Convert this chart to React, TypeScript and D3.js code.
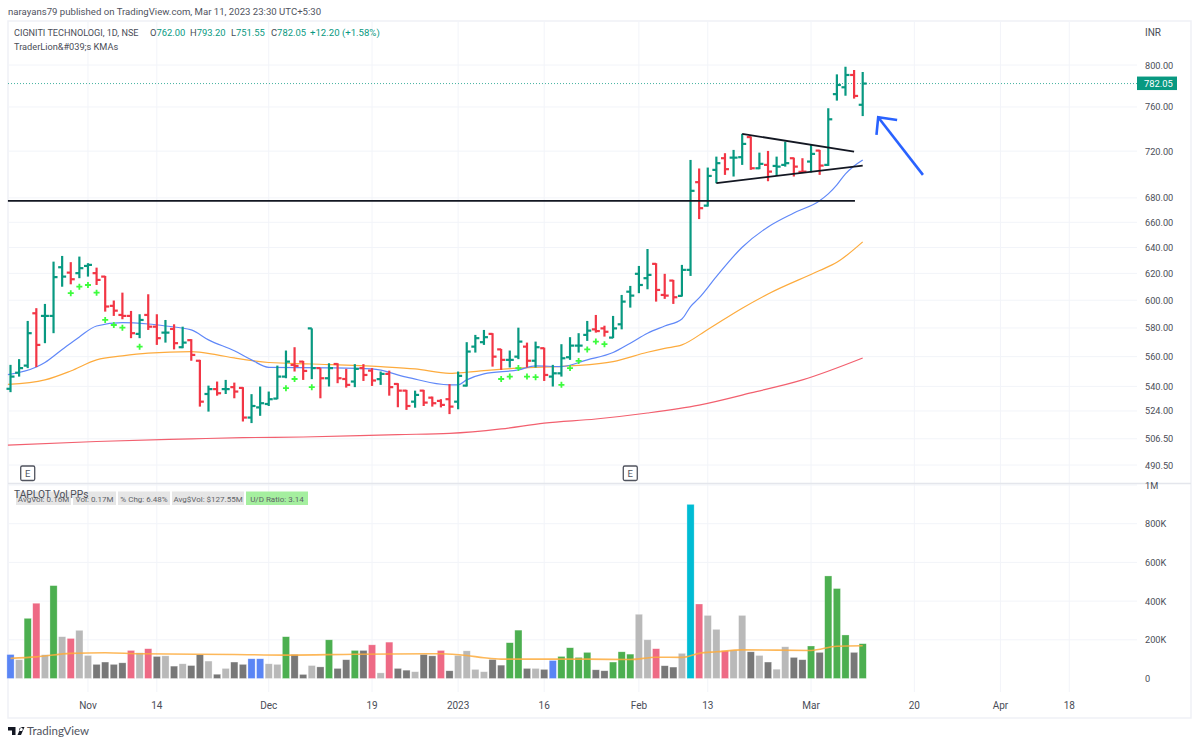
import React from "react";
import * as d3 from "d3";

const W = 1200;
const H = 746;

// daily bars
const opens = [538.4,549.1,553.9,590.5,588.6,588.6,624.7,620.6,620.2,625.7,620.2,617.6,595.9,589.3,588.6,575.8,589.3,580.9,576.7,579.3,566.5,571.4,557.2,535,538.2,538.2,539.5,539,519.8,526.3,528.5,532,546.5,554.4,556.6,579.7,552.2,545.4,555,544.9,543.2,552.2,550.5,544.8,548.3,541.6,537.2,530,537.2,532.6,530.5,531.6,530,540.5,566.9,570,575.8,565,557.8,560,566.9,557.2,565.8,546.5,548.7,559.6,567.6,575.1,579,579.7,573.2,582.6,606.3,619.7,616.4,627.3,603.9,614.6,603.2,622.7,693.2,673.6,703.7,713.8,714.3,714.7,732.5,705.1,708,707.1,708,713.8,702,710.9,720.5,708,772,778.5,790.3,762];
const highs = [554.4,558.3,585,594.2,597.3,629,633.4,628.6,632.9,627.8,624.4,618.1,599.8,605.6,592.2,589.8,604.4,589.8,585.7,582.6,580.9,572.1,557.8,540.5,543.2,544.3,542.5,539.5,534.9,539.9,536.6,553.9,564.2,566.5,557.1,579.7,552.2,555.5,555.5,551.7,554.9,554.9,552.2,549.9,550.5,542.1,537.7,537.2,537.7,533.3,531.6,541.5,549.9,570,575.1,578.6,576.3,565.3,564.2,580.2,569.7,570.4,566.2,554.4,568.6,573.5,576.3,585,589.3,581.6,588.6,603.9,610.6,625.7,638.8,627.8,619.7,615.1,626.5,712.3,704.9,705.7,715.2,718.2,721.1,735.4,733,718.7,720.2,715.2,728.4,714.3,713.8,725.5,721.1,758.8,790.9,798.3,795.1,793.2];
const lows = [536.2,546.5,552.2,552.9,569.3,576.3,610,611.8,616.4,617.6,611.3,591.7,588.6,586.2,572.8,572.8,578.6,568.1,569.7,565,565.8,557.2,526.8,523.6,533.9,535,532.2,517.3,516.3,520.9,527.2,531.6,545.4,549.9,544.3,544.8,532.2,539.9,542.1,539.2,539.5,543.6,540.3,541,533.9,526.4,524.7,526.1,527.2,526.8,526.3,522,525.1,539.9,562.8,568.1,553.2,551,552.6,558.3,552.6,552.6,543.6,539.9,546.5,557.8,562.8,570.9,576.7,573.9,572.8,579,594.6,605.2,608.1,599,601,597.3,602.7,618.1,662.6,672.8,692.3,699.4,698,708,703.7,704.3,694,698.5,706.5,698,700.9,701.4,699.4,707.1,765.9,770.5,767.8,751.55];
const closes = [546.5,552.2,576.3,568.1,588.6,617.2,617.6,615.6,624,626.5,615.1,595.4,592.4,588.6,576.3,585.7,580.9,572.8,576.7,569.3,569.7,561.2,530,538.2,535.5,538.2,536.6,519.8,527.2,529,531.6,546.5,556.6,553.7,550.3,552.2,545.4,552.2,545.4,541,551.7,547.6,543.9,548.3,539.5,537.2,527.2,534.4,529.4,529,527.9,526.8,547,563.5,572.8,573.5,560,557.8,557.8,570.4,557.2,566.5,547.6,548.7,558.9,567.6,567.6,578.1,577.8,577.3,579.7,599,603.4,611.3,618.9,607.6,603.4,602.2,622.7,685.9,671.5,698.5,709.5,704.3,714.3,726.4,705.1,708.9,702.2,706.5,709.5,706.5,702.2,717.6,707.4,748.6,780.7,790.3,770.3,782.05];

// volume in thousands and the kind of each column: b blue, l light, d dark, g green, p pink, c cyan
const volumes = [124,97,311,389,123,480,216,207,249,119,73,85,73,81,145,133,154,114,117,64,76,67,123,90,22,52,85,73,102,102,76,73,216,124,21,67,60,200,52,97,145,145,174,29,188,52,43,35,124,117,145,40,119,143,47,35,98,69,185,250,52,52,47,93,114,159,109,135,45,40,85,138,126,332,200,154,66,59,130,900,385,326,254,143,147,326,138,119,85,48,164,109,97,168,135,530,465,225,135,180];
const volumeKinds = "blgplglpll ddddplpdld lddldlddbb llgddldgdd gdplpddldd pdllllddgg dldbggggdd gggllpddlc pllplldldl lddgdgggdg".replace(/ /g, "").split("");

// moving averages: [bar index, value]
const ma10: [number, number][] = [[-0.3,547.8],[3,552.9],[4,556],[6,564.9],[8,573.7],[10,581.4],[13,583.8],[16,582.8],[18,581.4],[21,578.6],[23,571.6],[26,564],[28,557.8],[30,552.7],[37,552.4],[42,551.7],[46,546.2],[51,541],[52,541],[53,544.3],[55,548.3],[59,551],[61,553.7],[64,553.2],[67,557.8],[70,562.8],[72,569.3],[74,576.3],[76,581.4],[78,586.4],[79,595.4],[80,601.7],[82,617.6],[85,640.2],[88,656.3],[91,667.6],[94,677.7],[95,683.3],[96,690.9],[97,700.3],[98,707.1],[99,712.3]];
const ma21: [number, number][] = [[-0.3,541.3],[4,544.3],[7,550.3],[10,557.8],[13,560.5],[16,562.4],[21,563.5],[24,561.2],[26,559.1],[30,556],[35,555],[43,553.2],[47,551.7],[51,548.7],[53,549.4],[55,550.5],[59,552.2],[65,553.7],[70,556.6],[74,563],[76,565.7],[78,568.1],[81,578.9],[85,594.2],[88,604.6],[94,622.2],[96,628.5],[99,644.4]];
const ma200: [number, number][] = [[-0.3,502.6],[10,504.8],[21,506.4],[27,507.2],[34,507.6],[45,509.1],[51,509.8],[57,512.6],[62,516.3],[68,518.9],[74,522.7],[80,527.8],[86,535.7],[92,544.3],[99,559.1]];
const volMa: [number, number][] = [[0,104],[3,112],[7,130],[11,133],[15,128],[26,124],[32,121],[40,125],[50,128],[53,119],[55,107],[57,100],[67,100],[72,98],[75,110],[78,109],[80,130],[82,138],[85,148],[93,145],[96,167],[99,169]];

// green crosses under the bars
const crossBars = [7,8,9,10,11,12,13,15,32,33,35,57,58,59,60,61,64,65,66,67,68,69];
const crossPrices = [605.2,610,611.3,605.6,585.7,582.1,580.2,566.9,538.8,544.9,539.5,544.9,546.5,552.2,546.5,546.1,541,552.2,557.1,565,570.4,568.6];

const priceTicks = [800,760,720,680,660,640,620,600,580,560,540,524,506.5,490.5];
const volumeTicks = [0,200,400,600,800,1000];
const timeTicks: [number, string][] = [[9,"Nov"],[17,"14"],[30,"Dec"],[42,"19"],[52,"2023"],[62,"16"],[73,"Feb"],[81,"13"],[93,"Mar"],[105,"20"],[115,"Apr"],[123,"18"]];
const earningsBars = [2, 72];

// hand drawn lines on the chart, [bar index, price]
const supportLine: [number, number][] = [[-0.3,677.5],[98.1,677.5]];
const upperTrend: [number, number][] = [[85,735.4],[98,719.5]];
const lowerTrend: [number, number][] = [[82,692.4],[99,707.4]];
const arrowShaft: [number, number][] = [[106,699.4],[100.8,750.5]];
const arrowHead: [number, number][] = [[103,748],[100.8,750.5],[100.6,734.5]];

const statBoxes: [string, number, number][] = [["AvgVol: 0.16M",16,55],["Vol: 0.17M",73,43],["% Chg: 6.48%",118,52],["Avg$Vol: $127.55M",172,72],["U/D Ratio: 3.14",246,62]];

// legend values: label, value, x of the label
const legendValues: [string, string, number][] = [["O","762.00",150],["H","793.20",190],["L","751.55",231],["C","782.05",271]];

const FONT = "Roboto, sans-serif";
const UP = "#089981";
const DOWN = "#f23645";
const GRID = "#f2f4f9";
const TEXT = "#4a4d57";

const kindColor: Record<string, string> = {
  b: "#5a85f5",
  l: "#b9b9b9",
  d: "#787878",
  g: "#4caf50",
  p: "#ee6a85",
  c: "#00bcd4",
};

const x = d3.scaleLinear().domain([0, 99]).range([10.5, 862.7]);
const y = d3.scaleLog().domain([490.5, 800]).range([465, 65]);
const yVol = d3.scaleLinear().domain([0, 1000]).range([678.5, 485]);

const priceLine = d3
  .line<[number, number]>()
  .x((d) => x(d[0]))
  .y((d) => y(d[1]));
const smooth = d3
  .line<[number, number]>()
  .x((d) => x(d[0]))
  .y((d) => y(d[1]))
  .curve(d3.curveMonotoneX);
const volLine = d3
  .line<[number, number]>()
  .x((d) => x(d[0]))
  .y((d) => yVol(d[1]))
  .curve(d3.curveMonotoneX);

const App: React.FC = () => {
  const last = closes[closes.length - 1];
  return (
    <svg
      width={W}
      height={H}
      style={{ position: "absolute", left: 0, top: 0, background: "#fff" }}
      fontFamily={FONT}
    >
      <text x={8} y={15} fontSize={9.6} fill="#50535e">
        narayans79 published on TradingView.com, Mar 11, 2023 23:30 UTC+5:30
      </text>

      {/* frame and grid */}
      <rect x={8} y={21} width={1183} height={697} fill="none" stroke="#eff1f6" strokeWidth={1.5} />
      {timeTicks.map(([i, label]) => (
        <line key={label} x1={x(i)} x2={x(i)} y1={21} y2={692} stroke={GRID} />
      ))}
      {priceTicks.map((t) => (
        <line key={t} x1={8} x2={1137} y1={y(t)} y2={y(t)} stroke={GRID} />
      ))}
      {volumeTicks.slice(1).map((t) => (
        <line key={t} x1={8} x2={1137} y1={yVol(t)} y2={yVol(t)} stroke={GRID} />
      ))}
      <line x1={8} x2={1191} y1={483.5} y2={483.5} stroke="#e4e6ec" strokeWidth={1.5} />

      {/* moving averages */}
      <path d={smooth(ma200) ?? ""} fill="none" stroke="#f2606f" strokeWidth={1.2} />
      <path d={smooth(ma21) ?? ""} fill="none" stroke="#fdab3d" strokeWidth={1.2} />
      <path d={smooth(ma10) ?? ""} fill="none" stroke="#6088f8" strokeWidth={1.2} />

      {/* last price line */}
      <line x1={8} x2={1137} y1={y(last)} y2={y(last)} stroke={UP} strokeOpacity={0.75} strokeDasharray="1 2" />

      {/* OHLC bars, coloured against the previous close */}
      {closes.map((c, i) => {
        const color = i === 0 || c >= closes[i - 1] ? UP : DOWN;
        const cx = x(i);
        return (
          <g key={i} stroke={color} strokeWidth={2.2}>
            <line x1={cx} x2={cx} y1={y(highs[i])} y2={y(lows[i])} />
            <line x1={cx - 4} x2={cx} y1={y(opens[i])} y2={y(opens[i])} />
            <line x1={cx} x2={cx + 4} y1={y(c)} y2={y(c)} />
          </g>
        );
      })}

      {crossBars.map((b, i) => (
        <path
          key={b}
          d={`M${x(b) - 3},${y(crossPrices[i])}h6M${x(b)},${y(crossPrices[i]) - 3}v6`}
          stroke="#3dfc3d"
          strokeWidth={1.8}
        />
      ))}

      {/* drawings */}
      <path d={priceLine(supportLine) ?? ""} fill="none" stroke="#131722" strokeWidth={1.8} />
      <path d={priceLine(upperTrend) ?? ""} fill="none" stroke="#131722" strokeWidth={1.8} />
      <path d={priceLine(lowerTrend) ?? ""} fill="none" stroke="#131722" strokeWidth={1.8} />
      <path d={priceLine(arrowShaft) ?? ""} fill="none" stroke="#2962ff" strokeWidth={2.6} />
      <path d={priceLine(arrowHead) ?? ""} fill="none" stroke="#2962ff" strokeWidth={2.6} />

      {/* earnings badges */}
      {earningsBars.map((b) => (
        <g key={b}>
          <rect x={x(b) - 7} y={466} width={14} height={14.5} rx={1.5} fill="#fff" stroke="#50535e" strokeWidth={1.3} />
          <text x={x(b)} y={477} textAnchor="middle" fontSize={9.5} fill="#50535e">
            E
          </text>
        </g>
      ))}

      {/* volume pane */}
      {volumes.map((v, i) => (
        <rect
          key={i}
          x={x(i) - 3.6}
          y={yVol(v)}
          width={7.2}
          height={yVol(0) - yVol(v)}
          fill={kindColor[volumeKinds[i]]}
          stroke="#fff"
          strokeOpacity={0.5}
          strokeWidth={0.6}
        />
      ))}
      <path d={volLine(volMa) ?? ""} fill="none" stroke="#fdab3d" strokeWidth={1.6} opacity={0.85} />

      {statBoxes.map(([label, bx, bw], i) => (
        <g key={label}>
          <rect x={bx} y={491.5} width={bw} height={13.5} fill={i === 4 ? "#a5ef9f" : "#e6e6e6"} />
          <text x={bx + bw / 2} y={501.5} textAnchor="middle" fontSize={8} fill="#5f6368">
            {label}
          </text>
        </g>
      ))}
      <text x={14} y={498} fontSize={10.2} fill="#4a4d57">
        TAPLOT Vol PPs
      </text>

      {/* legend */}
      <text x={14} y={36} fontSize={9.1} fill={TEXT}>
        CIGNITI TECHNOLOGI, 1D, NSE
      </text>
      {legendValues.map(([label, value, lx]) => (
        <text key={label} x={lx} y={36} fontSize={9.4} fill={TEXT}>
          {label}
          <tspan fill={UP}>{value}</tspan>
        </text>
      ))}
      <text x={310} y={36} fontSize={9.6} fill={UP}>
        +12.20 (+1.58%)
      </text>
      <text x={14} y={50} fontSize={9.2} fill={TEXT}>
        TraderLion&amp;#039;s KMAs
      </text>

      {/* price axis */}
      <text x={1145} y={36} fontSize={10} fill={TEXT}>
        INR
      </text>
      {priceTicks.map((t) => (
        <text key={t} x={1145} y={y(t) + 3.5} fontSize={9.2} fill={TEXT}>
          {t.toFixed(2)}
        </text>
      ))}
      <rect x={1137} y={y(last) - 7} width={40} height={13.5} fill={UP} />
      <text x={1144} y={y(last) + 3.5} fontSize={9.4} fill="#fff">
        {last.toFixed(2)}
      </text>

      {/* volume axis */}
      {volumeTicks.map((t) => (
        <text key={t} x={1145} y={yVol(t) + 3.5} fontSize={9.2} fill={TEXT}>
          {t === 1000 ? "1M" : t === 0 ? "0" : `${t}K`}
        </text>
      ))}

      {/* time axis */}
      {timeTicks.map(([i, label]) => (
        <text key={label} x={x(i)} y={709} textAnchor="middle" fontSize={10} fill={TEXT}>
          {label}
        </text>
      ))}

      {/* footer logo */}
      <path d="M8,727h7.5v8h-3.5v-4.5h-4zM21,727.5a1.8,1.8 0 1 0 .01,0zM17.5,735l3.5,-8h3.5l-3.5,8z" fill="#131722" />
      <text x={27} y={735} fontSize={11.5} fill="#50535e" fontFamily="Lato, sans-serif">
        TradingView
      </text>
    </svg>
  );
};

export default App;
